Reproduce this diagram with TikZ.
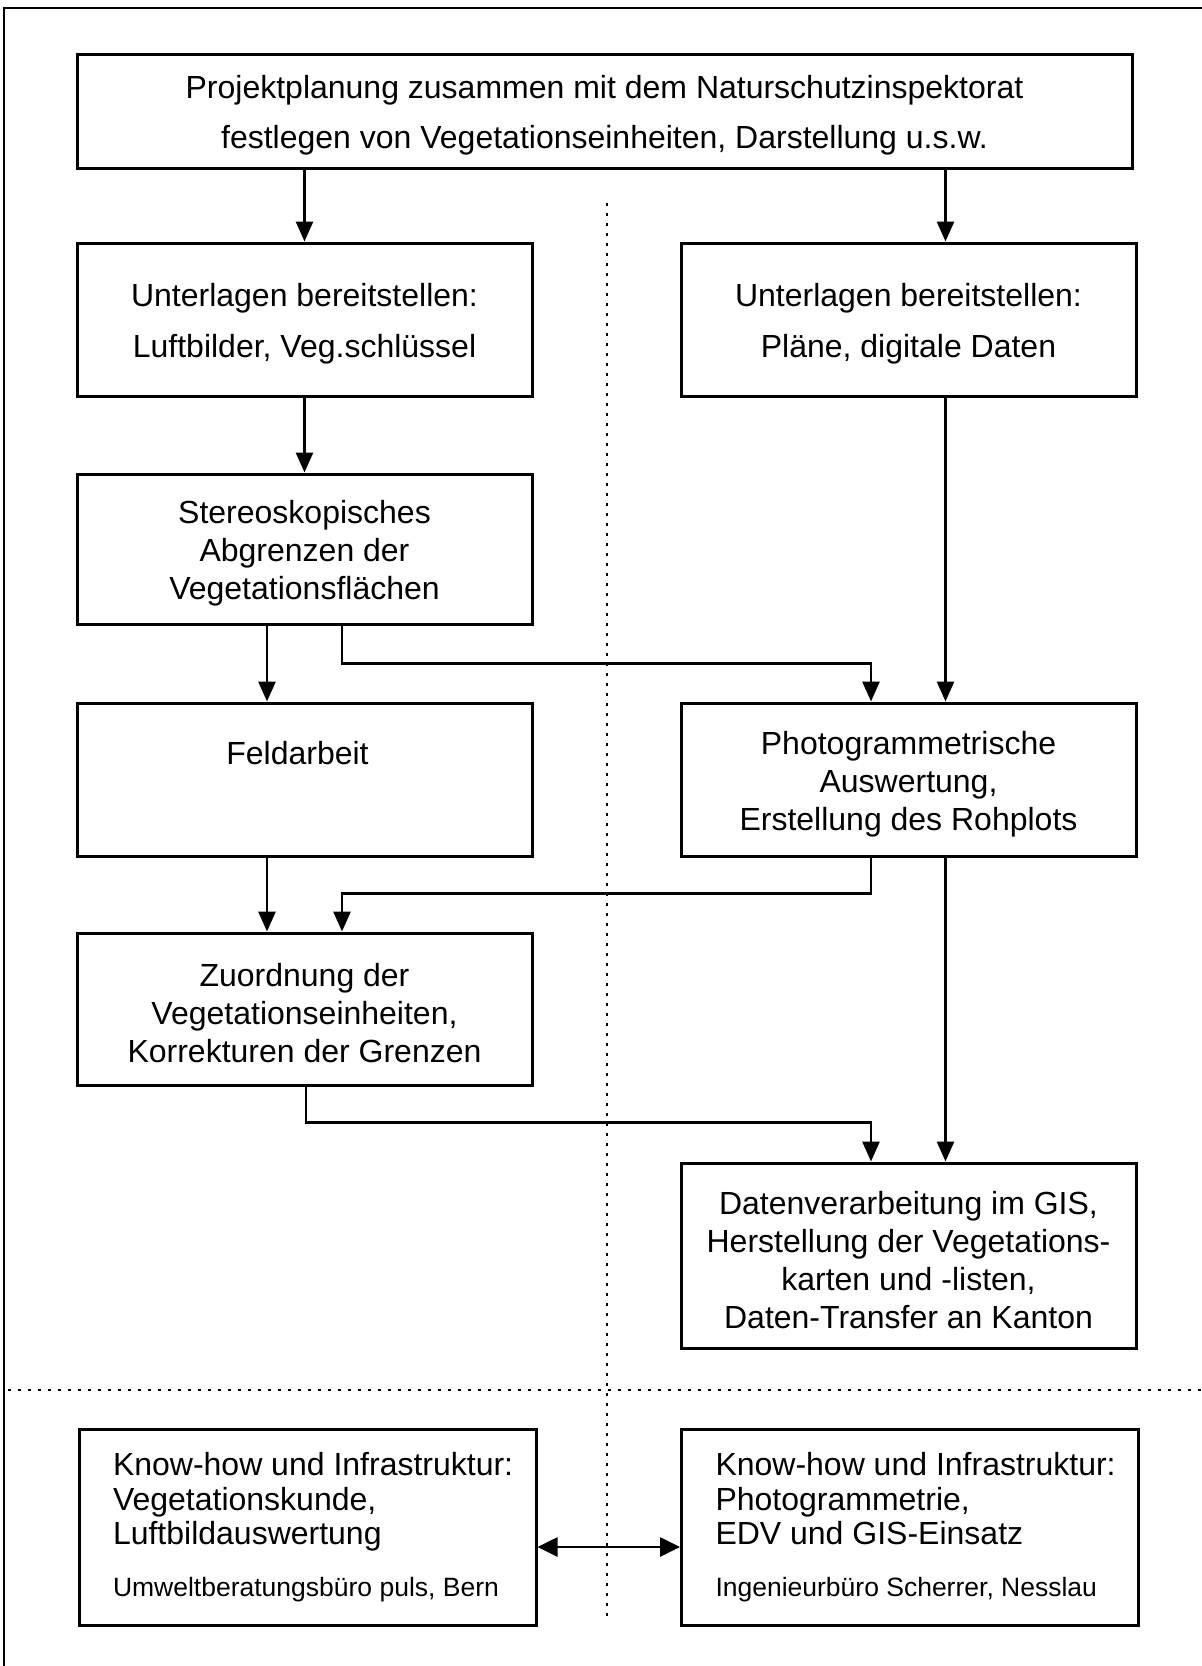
\documentclass[tikz,border=0pt]{standalone}
\usepackage{fontspec}
\setmainfont{Liberation Sans}
\usetikzlibrary{arrows.meta}
\newcommand\boxlift{\rule{0pt}{32pt}}
\newcommand\plainspace{\spaceskip=0pt\xspaceskip=0pt\relax}

\begin{document}
\begin{tikzpicture}[x=1pt, y=-1pt,
    box/.style={draw, line width=3pt, minimum width=455pt, inner sep=0pt, align=center, font=\fontsize{32}{38}\selectfont},
    bureau/.style={draw, line width=3pt, minimum width=457pt, minimum height=196pt, inner xsep=34pt, inner ysep=0pt, text width=389pt, align=left, font=\fontsize{32}{34.5}\selectfont},
    arr/.style={line width=2.8pt, -{Triangle[length=20pt,width=17pt]}},
    sep/.style={line width=2.8pt, dash pattern=on 2.8pt off 7.2pt}]
    \useasboundingbox (0,0) rectangle (1202,1666);
    \draw[line width=2.6pt] (1202,8) -- (4,8) -- (4,1666);

    \draw[sep] (607,203) -- (607,1620);
    \draw[sep] (8,1390) -- (1202,1390);

    \node (plan) at (604.5,111) [box, minimum width=1055pt, minimum height=114pt, font=\fontsize{32}{50}\selectfont] {\boxlift Projektplanung zusammen mit dem Naturschutzinspektorat\\festlegen von Vegetationseinheiten, Darstellung u.s.w.};

    \node (unterl) at (304.5,319.5) [box, minimum height=153pt, font=\fontsize{32}{51}\selectfont] {\boxlift Unterlagen bereitstellen:\\Luftbilder, Veg.schlüssel};
    \node (unterr) at (908.5,319.5) [box, minimum height=153pt, font=\fontsize{32}{51}\selectfont] {\boxlift Unterlagen bereitstellen:\\Pläne, digitale Daten};
    \node (stereo) at (304.5,549) [box, minimum height=150pt] {\boxlift Stereoskopisches\\Abgrenzen der\\Vegetationsflächen};
    \node (feld) at (304.5,779.5) [box, minimum height=153pt] {Feldarbeit\hspace*{14pt}\\[15pt]\mbox{}};
    \node (photo) at (908.5,779.5) [box, minimum height=153pt] {\boxlift Photogrammetrische\\Auswertung,\\Erstellung des Rohplots};
    \node (zuord) at (304.5,1009) [box, minimum height=152pt] {\boxlift Zuordnung der\\Vegetationseinheiten,\\Korrekturen der Grenzen};
    \node (daten) at (908.5,1255.5) [box, minimum height=185pt] {\boxlift Datenverarbeitung im GIS,\\Herstellung der Vegetations-\\karten und -listen,\\Daten-Transfer an Kanton};

    \node (knowl) at (307.5,1527) [bureau] {\plainspace\mbox{Know-how und Infrastruktur:}\\Vegetationskunde,\\Luftbildauswertung\\[17pt]\mbox{\fontsize{26.5}{30}\selectfont Umweltberatungsbüro puls, Bern}};
    \node (knowr) at (910,1527) [bureau] {\plainspace\mbox{Know-how und Infrastruktur:}\\Photogrammetrie,\\EDV und GIS-Einsatz\\[17pt]\mbox{\fontsize{26.5}{30}\selectfont Ingenieurbüro Scherrer, Nesslau}};

    \draw[arr] (plan.south -| unterl.north) -- (unterl.north);
    \draw[arr] ([xshift=37pt]unterr.north |- plan.south) -- ([xshift=37pt]unterr.north);
    \draw[arr] (unterl.south) -- (stereo.north);
    \draw[arr] ([xshift=-37.5pt]stereo.south) -- ([xshift=-37.5pt]feld.north);
    \draw[arr] ([xshift=37.5pt]stereo.south) -- ++(0,38) -| ([xshift=-37.5pt]photo.north);
    \draw[arr] ([xshift=37pt]unterr.south) -- ([xshift=37pt]photo.north);
    \draw[arr] ([xshift=-37.5pt]feld.south) -- ([xshift=-37.5pt]zuord.north);
    \draw[arr] ([xshift=-37.5pt]photo.south) -- ++(0,36) -| ([xshift=37.5pt]zuord.north);
    \draw[arr] ([xshift=37pt]photo.south) -- ([xshift=37pt]daten.north);
    \draw[arr] ([xshift=1.5pt]zuord.south) -- ++(0,36) -| ([xshift=-37.5pt]daten.north);
    \draw[arr, {Triangle[length=20pt,width=19pt]}-{Triangle[length=20pt,width=19pt]}] ([yshift=-20pt]knowl.east) -- ([yshift=-20pt]knowr.west);
\end{tikzpicture}
\end{document}
